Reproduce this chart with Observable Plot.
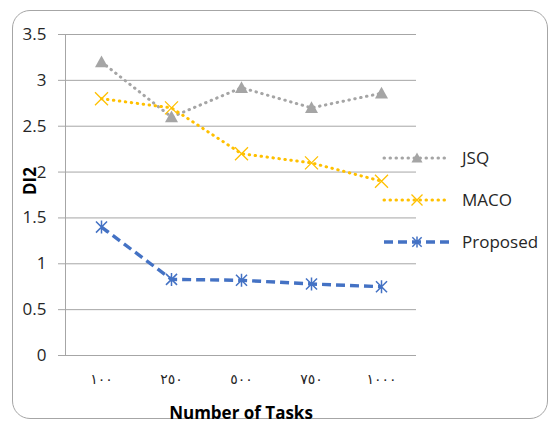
<!DOCTYPE html>
<html>
<head>
<meta charset="utf-8">
<script src="https://cdn.jsdelivr.net/npm/d3@7"></script>
<script src="https://cdn.jsdelivr.net/npm/@observablehq/plot@0.6"></script>
<style>
  body { margin: 0; background: #fff; }
  #wrap { position: relative; width: 553px; height: 425px; }
  #border { position: absolute; left: 12px; top: 10px; width: 534px; height: 407px;
            border: 1.3px solid #a6a6a6; border-radius: 18px; }
  #chart { position: absolute; left: 0; top: 0; }
</style>
</head>
<body>
<div id="wrap"><div id="border"></div><div id="chart"></div></div>
<script>
// Number of tasks (Arabic-Indic numerals as shown on the axis)
const tasks = ["١٠٠", "٢٥٠", "٥٠٠", "٧٥٠", "١٠٠٠"];
// DI2 per scheduler
const jsq = [3.2, 2.6, 2.92, 2.7, 2.86];
const maco = [2.8, 2.7, 2.2, 2.1, 1.9];
const proposed = [1.4, 0.83, 0.82, 0.78, 0.75];
const seriesNames = ["JSQ", "MACO", "Proposed"];
const yTicks = [0, 0.5, 1, 1.5, 2, 2.5, 3, 3.5];

const colors = { JSQ: "#a5a5a5", MACO: "#ffc000", Proposed: "#4472c4" };

// Marker shapes (half-width r derived from Plot's area-based size)
const triangle = { draw(ctx, size) { const r = Math.sqrt(size / Math.PI);
  ctx.moveTo(0, -r); ctx.lineTo(r, r * 0.8); ctx.lineTo(-r, r * 0.8); ctx.closePath(); } };
const cross = { draw(ctx, size) { const r = Math.sqrt(size / Math.PI);
  ctx.moveTo(-r, -r); ctx.lineTo(r, r); ctx.moveTo(r, -r); ctx.lineTo(-r, r); } };
const star = { draw(ctx, size) { const r = Math.sqrt(size / Math.PI), d = r * 0.85;
  ctx.moveTo(-d, -d); ctx.lineTo(d, d); ctx.moveTo(d, -d); ctx.lineTo(-d, d);
  ctx.moveTo(0, -r); ctx.lineTo(0, r); } };

const rows = (vals) => tasks.map((t, i) => ({ task: t, value: vals[i] }));
const styles = {
  JSQ: { data: rows(jsq), line: { strokeWidth: 3, strokeDasharray: "0.5 5.5", strokeLinecap: "round" },
         dot: { symbol: triangle, r: 6.5, fill: colors.JSQ } },
  MACO: { data: rows(maco), line: { strokeWidth: 3, strokeDasharray: "0.5 5.5", strokeLinecap: "round" },
          dot: { symbol: cross, r: 6.5, stroke: colors.MACO, strokeWidth: 1.3, fill: "none" } },
  Proposed: { data: rows(proposed), line: { strokeWidth: 3.4, strokeDasharray: "9 5", strokeLinecap: "butt" },
              dot: { symbol: star, r: 6.5, stroke: colors.Proposed, strokeWidth: 1.5, fill: "none" } }
};

const seriesMarks = seriesNames.flatMap((name) => {
  const s = styles[name];
  return [
    Plot.line(s.data, { x: "task", y: "value", stroke: colors[name], ...s.line }),
    Plot.dot(s.data, { x: "task", y: "value", ...s.dot })
  ];
});

const chart = Plot.plot({
  width: 553,
  height: 425,
  marginLeft: 65,
  marginRight: 137,
  marginTop: 34,
  marginBottom: 70,
  style: { fontFamily: "'Open Sans', sans-serif", fontSize: "17px", color: "#262626", background: "transparent", overflow: "visible" },
  x: { type: "point", domain: tasks, padding: 0.5, label: null },
  y: { domain: [0, 3.5], label: null },
  marks: [
    Plot.gridY(yTicks, { stroke: "#a6a6a6", strokeOpacity: 1 }),
    Plot.axisY(yTicks, { tickSize: 7, stroke: "#a6a6a6", strokeOpacity: 1, tickPadding: 12, tickFormat: (d) => String(d), fontSize: 17 }),
    Plot.frame({ anchor: "left", stroke: "#a6a6a6" }),
    Plot.axisX({ tickSize: 0, tickPadding: 19, fontFamily: "'DejaVu Sans', sans-serif", fontSize: 14, letterSpacing: 3 }),
    ...seriesMarks,
    Plot.text(["DI2"], { text: (d) => d, frameAnchor: "left", dx: -35, rotate: -90, fontWeight: "bold", fontSize: 17, fill: "#000" }),
    Plot.text(["Number of Tasks"], { text: (d) => d, frameAnchor: "bottom", dy: 63, fontWeight: "bold", fontSize: 17, fill: "#000" })
  ]
});

// Legend on the right side of the chart
const svg = d3.select(chart);
const legend = svg.append("g").attr("font-family", "'Open Sans', sans-serif").attr("font-size", 17).attr("text-anchor", "start");
const legendY = [158, 200, 242];
seriesNames.forEach((name, i) => {
  const s = styles[name];
  const g = legend.append("g").attr("transform", `translate(384,${legendY[i]})`);
  g.append("line").attr("x1", 0).attr("x2", 66).attr("y1", 0).attr("y2", 0)
    .attr("stroke", colors[name]).attr("stroke-width", s.line.strokeWidth)
    .attr("stroke-dasharray", s.line.strokeDasharray).attr("stroke-linecap", s.line.strokeLinecap);
  const p = d3.path();
  s.dot.symbol.draw(p, Math.PI * 5.5 * 5.5);
  g.append("path").attr("d", p.toString()).attr("transform", "translate(33,0)")
    .attr("fill", s.dot.fill || "none").attr("stroke", s.dot.stroke || "none").attr("stroke-width", s.dot.strokeWidth || 0);
  g.append("text").attr("x", 78).attr("y", 0).attr("dy", "0.35em").attr("fill", "#262626").text(name);
});

document.getElementById("chart").appendChild(chart);
</script>
</body>
</html>
